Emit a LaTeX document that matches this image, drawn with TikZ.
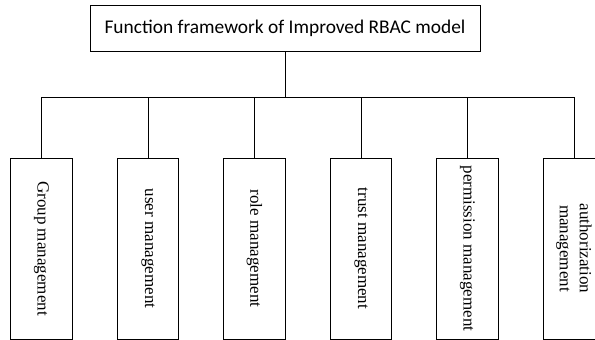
\documentclass[tikz,border=0pt]{standalone}
\usepackage{fontspec}
\setmainfont{Liberation Serif}
\newfontfamily\calibrifont{Carlito}
\begin{document}
\begin{tikzpicture}[x=1pt, y=-1pt, line width=0.8pt,
    part/.style={draw, rotate=-90, minimum width=181pt, minimum height=61.5pt, align=center, inner sep=2pt, font=\fontsize{17}{20}\selectfont}]
    \useasboundingbox (0,0) rectangle (595,340);

    \node[draw, minimum width=390pt, minimum height=46pt, font=\calibrifont\fontsize{19.4}{23}\selectfont] (root) at (285,28) {Function framework of Improved RBAC model};
    \coordinate (bus) at (285,97);

    \node[part] (group) at (41.5,248.5) {Group management};
    \node[part] (user) at (148,248.5) {user management};
    \node[part] (role) at (254.5,248.5) {role management};
    \node[part] (trust) at (361,248.5) {trust management};
    \node[part] (perm) at (467.5,248.5) {permission management};
    \node[part] (auth) at (574,248.5) {authorization\\management};

    \draw (root) -- (bus);
    \draw (bus) -| (group);
    \draw (bus) -| (user);
    \draw (bus) -| (role);
    \draw (bus) -| (trust);
    \draw (bus) -| (perm);
    \draw (bus) -| (auth);
  \end{tikzpicture}
\end{document}
